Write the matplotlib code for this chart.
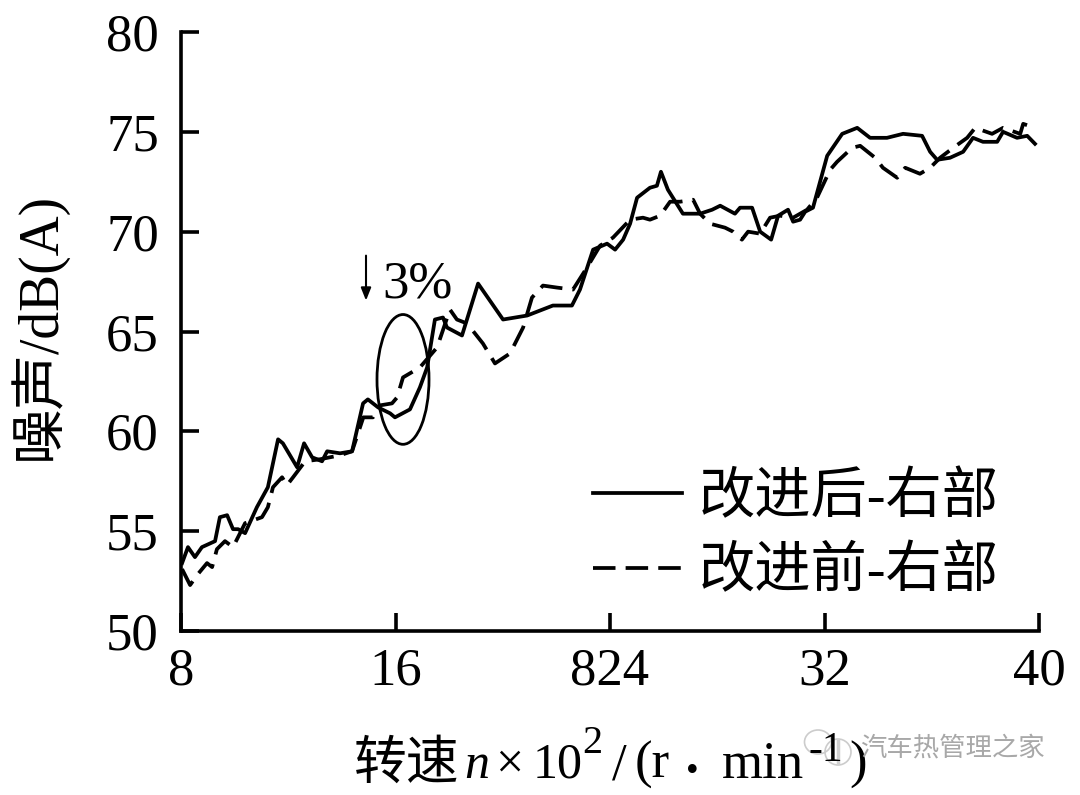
import matplotlib
matplotlib.use("Agg")
import matplotlib.pyplot as plt
from matplotlib.lines import Line2D
from matplotlib.patches import Ellipse
from matplotlib.transforms import IdentityTransform

plt.rcParams['font.family'] = ['Liberation Serif', 'Noto Sans CJK SC', 'DejaVu Sans']

# rotational speed (x100 r/min) and noise dB(A)
after_x = [8.04, 8.26, 8.52, 8.78, 9.27, 9.45, 9.72, 9.94, 10.13, 10.39, 10.83, 11.24, 11.62, 11.80,
           12.33, 12.59, 12.89, 13.26, 13.45, 13.93, 14.38, 14.79, 14.97, 15.35, 15.80, 15.98, 16.54,
           16.91, 17.18, 17.47, 17.77, 17.92, 18.48, 19.08, 20.01, 20.91, 21.87, 22.58, 22.88, 23.37,
           23.89, 24.19, 24.49, 24.75, 25.01, 25.49, 25.75, 25.90, 26.16, 26.72, 27.36, 27.81, 28.11,
           28.66, 28.85, 29.30, 29.60, 30.01, 30.27, 30.64, 30.83, 31.09, 31.28, 31.57, 32.10, 32.66,
           33.22, 33.70, 34.33, 34.93, 35.64, 35.94, 36.20, 36.68, 37.17, 37.54, 37.91, 38.44, 38.66,
           39.18, 39.56, 39.85]
after_y = [53.4, 54.2, 53.7, 54.2, 54.5, 55.7, 55.8, 55.1, 55.1, 54.9, 56.2, 57.2, 59.6, 59.4,
           58.2, 59.4, 58.7, 58.5, 59.0, 58.9, 59.0, 61.4, 61.6, 61.2, 60.9, 60.7, 61.1,
           62.2, 63.2, 65.6, 65.7, 65.2, 64.8, 67.4, 65.6, 65.8, 66.3, 66.3, 67.1, 69.1,
           69.4, 69.1, 69.6, 70.4, 71.7, 72.2, 72.3, 73.0, 72.1, 70.9, 70.9, 71.1, 71.3,
           70.9, 71.2, 71.2, 70.0, 69.6, 70.8, 71.1, 70.5, 70.6, 71.0, 71.2, 73.8, 74.9,
           75.2, 74.7, 74.7, 74.9, 74.8, 74.0, 73.6, 73.7, 74.0, 74.7, 74.5, 74.5, 75.0,
           74.7, 74.8, 74.4]

before_x = [8.04, 8.34, 8.60, 8.97, 9.16, 9.34, 9.64, 9.94, 10.39, 11.02, 11.24, 11.43, 11.77, 11.95,
            12.18, 12.63, 13.18, 13.93, 14.38, 14.80, 15.16, 15.42, 15.87, 16.06, 16.28, 16.91, 17.55,
            18.03, 18.29, 18.67, 19.26, 19.71, 20.27, 20.76, 21.09, 21.50, 22.02, 22.62, 23.14, 23.63,
            24.11, 24.75, 25.23, 25.49, 25.87, 26.24, 26.61, 27.10, 27.36, 27.73, 28.29, 28.59, 28.92,
            29.15, 29.60, 29.97, 30.34, 30.83, 31.35, 31.72, 32.21, 32.47, 33.03, 33.33, 33.89, 34.18,
            34.71, 35.01, 35.56, 35.94, 36.31, 36.80, 37.32, 37.62, 38.25, 38.66, 39.30, 39.41, 39.85]
before_y = [53.1, 52.3, 52.8, 53.4, 53.2, 54.1, 54.5, 54.2, 55.4, 55.7, 56.2, 57.2, 57.7, 57.3,
            57.7, 58.5, 58.6, 58.8, 59.0, 60.7, 60.7, 61.3, 61.4, 61.7, 62.7, 63.2, 64.2,
            66.1, 65.6, 65.4, 64.4, 63.4, 63.9, 65.2, 66.7, 67.3, 67.2, 67.1, 68.2, 69.3,
            69.7, 70.6, 70.7, 70.6, 70.8, 71.5, 71.5, 71.6, 70.9, 70.4, 70.2, 70.0, 69.6,
            70.0, 69.9, 70.7, 70.8, 70.7, 71.1, 71.7, 73.1, 73.5, 74.2, 74.3, 73.7, 73.2,
            72.7, 73.2, 72.9, 73.2, 73.7, 74.2, 74.7, 75.2, 74.9, 75.2, 74.9, 75.4, 75.2]

x_ticks = [8, 16, 24, 32, 40]
x_tick_labels = ["8", "16", "824", "32", "40"]
y_ticks = [50, 55, 60, 65, 70, 75, 80]

W, H = 1080, 795
fig = plt.figure(figsize=(W / 100, H / 100), dpi=100)
ax = fig.add_axes([181 / W, 1 - 631 / H, 858 / W, 599 / H])


def label(px, py, s, size=38, **kw):
    # place a piece of text by its pixel position in the picture
    kw.setdefault('va', 'baseline')
    fig.text(px / W, 1 - py / H, s, fontsize=size, **kw)


ax.plot(after_x, after_y, color='black', lw=2.7, solid_joinstyle='round', label="改进后-右部")
ax.plot(before_x, before_y, color='black', lw=2.7, dashes=(6, 2.7), label="改进前-右部")

ax.add_patch(Ellipse((16.28, 62.6), 1.94, 6.5, fill=False, ec='black', lw=2))
ax.annotate("", xy=(14.9, 66.55), xytext=(14.9, 68.8),
            arrowprops=dict(arrowstyle='-|>,head_width=0.3,head_length=0.75', color='black', lw=1.5,
                            shrinkA=0, shrinkB=0))
ax.text(15.5, 66.7, "3%", fontsize=38, ha='left', va='baseline')

ax.set_xlim(8, 40)
ax.set_ylim(50, 80)
ax.set_xticks(x_ticks)
ax.set_xticklabels(x_tick_labels)
ax.set_yticks(y_ticks)
ax.tick_params(direction='in', length=13, width=2.6, labelsize=38)
ax.tick_params(axis='y', pad=16)
ax.tick_params(axis='x', pad=12)
ax.spines['top'].set_visible(False)
ax.spines['right'].set_visible(False)
ax.spines['left'].set_linewidth(2.6)
ax.spines['bottom'].set_linewidth(2.6)

ax.legend(loc='lower left', bbox_to_anchor=(0.48, 0.053), frameon=False, fontsize=40.5,
          handlelength=1.58, handletextpad=0.3, labelspacing=0.39, borderpad=0, borderaxespad=0)

fig.text(37 / W, 1 - 326 / H, "噪声/dB(A)", fontsize=40, rotation=90, ha='center', va='center')

# x label is set in pieces because of the mixed fonts
label(354, 779, "转速", size=38)
label(464, 778, "n", size=36, style='italic')
label(495, 778, "×", size=36)
label(533, 778, "10", size=36)
label(582, 753, "2", size=29)
label(612, 780, "/", size=38)
label(635, 778, "(r", size=38)
label(692, 781, "•", size=26, ha='center')
label(722, 778, "min", size=38)
label(808, 761, "-1", size=30)
label(849, 778, ")", size=38)

# watermark
label(860, 755, "汽车热管理之家", size=19, color='#a8a8a8')
logo = dict(fill=False, ec='#cccccc', lw=1.2, transform=IdentityTransform())
fig.add_artist(Ellipse((818, H - 742), 27, 24, **logo))
fig.add_artist(Ellipse((838, H - 752), 26, 26, **logo))
fig.add_artist(Line2D([838, 838], [H - 763, H - 741], color='#d0d0d0', lw=2.5, transform=IdentityTransform()))

fig.savefig("out.png", dpi=100)
